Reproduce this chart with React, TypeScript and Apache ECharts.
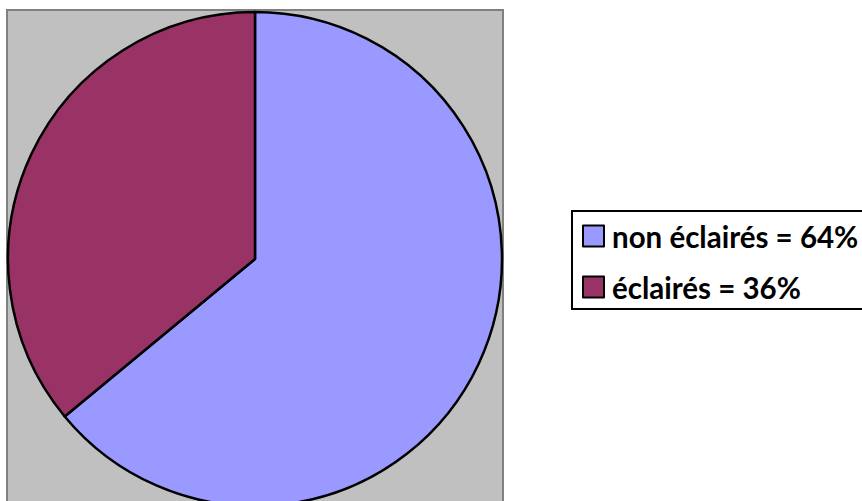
import React, { useEffect, useRef } from "react";
import * as echarts from "echarts";

const categories = ["non éclairés", "éclairés"];
const values = [64, 36];
const colors = ["#9999FF", "#993366"];

export default function App() {
  const ref = useRef<HTMLDivElement>(null);
  useEffect(() => {
    if (!ref.current) return;
    const chart = echarts.init(ref.current, null, { renderer: "svg" });
    chart.setOption({
      animation: false,
      backgroundColor: "#FFFFFF",
      graphic: [
        {
          type: "rect",
          z: -10,
          shape: { x: 7, y: 10, width: 496, height: 500 },
          style: { fill: "#C0C0C0", stroke: "#808080", lineWidth: 2 },
          silent: true,
        },
        {
          type: "rect",
          z: -10,
          shape: { x: 572, y: 211, width: 300, height: 98 },
          style: { fill: "#FFFFFF", stroke: "#000000", lineWidth: 2 },
          silent: true,
        },
      ],
      legend: {
        orient: "vertical",
        left: 577,
        top: 216,
        padding: 5,
        itemWidth: 21,
        itemHeight: 21,
        itemGap: 21,
        icon: "rect",
        data: categories,
        formatter: (name: string) => {
          const i = categories.indexOf(name);
          return `${name} = ${values[i]}%`;
        },
        textStyle: {
          fontFamily: "Lato",
          fontWeight: "bold",
          fontSize: 29.5,
          lineHeight: 21,
          color: "#000000",
          padding: [0, 0, 0, 3],
        },
      },
      series: [
        {
          type: "pie",
          center: [255, 259],
          radius: [0, 247],
          startAngle: 90,
          clockwise: true,
          label: { show: false },
          labelLine: { show: false },
          emphasis: { disabled: true },
          itemStyle: { borderColor: "#000000", borderWidth: 2.5 },
          data: categories.map((c, i) => ({
            name: c,
            value: values[i],
            itemStyle: { color: colors[i] },
          })),
        },
      ],
    });
    return () => chart.dispose();
  }, []);
  return (
    <div
      ref={ref}
      style={{ position: "fixed", left: 0, top: 0, width: 862, height: 501 }}
    />
  );
}
